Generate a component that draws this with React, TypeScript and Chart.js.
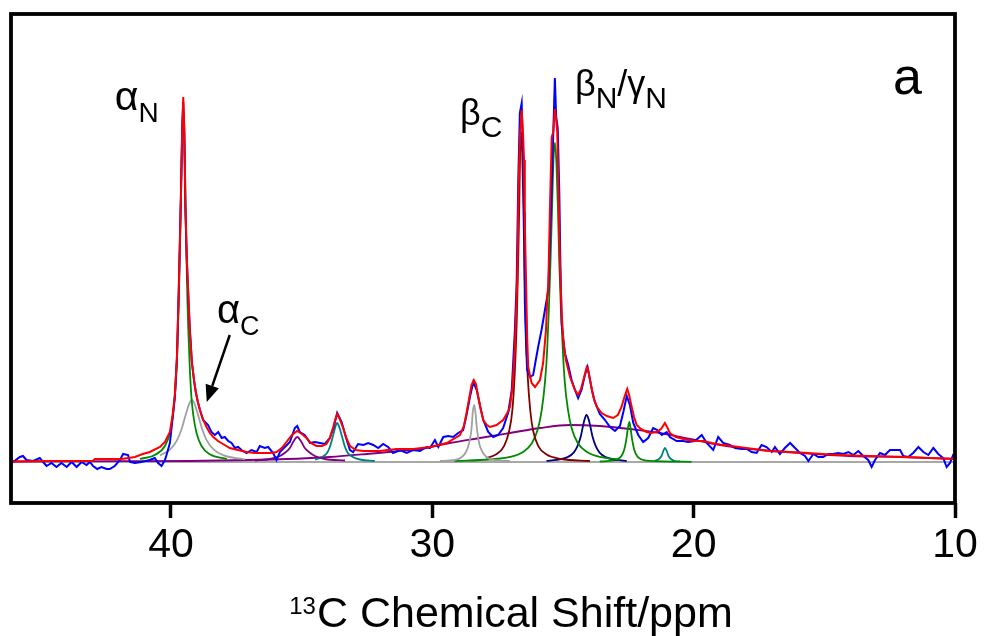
import React, { useEffect, useRef } from 'react';
import { Chart, registerables } from 'chart.js';

Chart.register(...registerables);

const FONT = '"Liberation Sans", Arial, Helvetica, sans-serif';

// axis
const TICK_VALUES = [40, 30, 20, 10];
const X_MIN = 10;
const X_MAX = 46.12;
const Y_MIN = -41;
const Y_MAX = 448;

// experimental spectrum (blue)
const expX = [46.12, 46.04, 45.78, 45.66, 45.53, 45.27, 45.02, 44.89, 44.76, 44.57, 44.38, 44.19, 43.99, 43.8, 43.61, 43.42, 43.23, 43.1, 42.98, 42.82, 42.66, 42.46, 42.34, 42.15, 41.95, 41.83, 41.64, 41.57, 41.38, 41.13, 40.81, 40.62, 40.49, 40.36, 40.23, 40.17, 40.04, 39.93, 39.85, 39.77, 39.7, 39.62, 39.57, 39.53, 39.49, 39.45, 39.39, 39.33, 39.28, 39.2, 39.12, 39.05, 38.97, 38.89, 38.77, 38.58, 38.45, 38.32, 38.19, 38.06, 37.94, 37.81, 37.68, 37.55, 37.43, 37.3, 37.11, 36.92, 36.72, 36.6, 36.41, 36.28, 36.09, 35.96, 35.83, 35.64, 35.45, 35.26, 35.17, 35.07, 34.88, 34.68, 34.49, 34.3, 34.11, 33.92, 33.77, 33.64, 33.47, 33.31, 33.15, 33.03, 32.84, 32.64, 32.45, 32.26, 32.07, 31.88, 31.69, 31.5, 31.24, 30.98, 30.73, 30.47, 30.22, 30.09, 29.9, 29.77, 29.58, 29.39, 29.2, 29.01, 28.82, 28.69, 28.56, 28.43, 28.3, 28.18, 28.05, 27.86, 27.67, 27.48, 27.29, 27.09, 26.96, 26.84, 26.77, 26.71, 26.65, 26.58, 26.53, 26.49, 26.46, 26.4, 26.37, 26.26, 26.14, 26.04, 25.95, 25.82, 25.69, 25.56, 25.5, 25.43, 25.37, 25.31, 25.26, 25.2, 25.14, 25.1, 25.05, 24.93, 24.8, 24.67, 24.54, 24.42, 24.29, 24.16, 24.06, 23.9, 23.78, 23.59, 23.39, 23.2, 23.01, 22.82, 22.69, 22.56, 22.44, 22.31, 22.12, 21.93, 21.74, 21.55, 21.39, 21.22, 21.03, 20.91, 20.65, 20.4, 20.21, 19.95, 19.69, 19.5, 19.25, 19.06, 18.87, 18.61, 18.42, 18.16, 17.97, 17.78, 17.59, 17.4, 17.21, 17.01, 16.89, 16.7, 16.51, 16.31, 16.12, 15.93, 15.74, 15.61, 15.42, 15.23, 15.04, 14.85, 14.66, 14.47, 14.27, 14.08, 13.89, 13.7, 13.51, 13.32, 13.19, 13.06, 12.87, 12.68, 12.49, 12.3, 12.1, 11.98, 11.79, 11.6, 11.4, 11.21, 11.02, 10.83, 10.64, 10.45, 10.32, 10.19, 10.07, 10.0];
const expY = [0, 0, 5, 6, 2, 1, 4, 0, -4, -1, -5, -1, -5, 0, -5, 0, -3, 0, -4, -7, -5, -7, -7, -4, 2, 8, 7, 0, -1, 0, 2, 4, -1, -4, 2, 7, 19, 45, 65, 105, 175, 265, 335, 360, 330, 255, 200, 162, 135, 100, 82, 70, 60, 52, 42, 37, 30, 27, 30, 24, 25, 21, 19, 14, 15, 12, 9, 12, 10, 16, 14, 15, 9, 2, 10, 15, 20, 34, 36, 30, 27, 19, 20, 19, 18, 24, 35, 49, 40, 25, 12, 10, 18, 17, 19, 17, 14, 18, 15, 9, 12, 9, 12, 11, 15, 14, 22, 15, 25, 26, 25, 29, 32, 47, 65, 80, 72, 57, 42, 30, 25, 27, 34, 50, 72, 132, 182, 282, 349, 359, 310, 250, 160, 110, 92, 85, 87, 102, 115, 132, 152, 172, 220, 275, 330, 384, 345, 334, 269, 200, 139, 109, 97, 82, 72, 64, 72, 87, 95, 73, 60, 48, 42, 35, 31, 36, 50, 66, 57, 39, 27, 20, 24, 34, 32, 27, 30, 25, 21, 21, 20, 21, 27, 19, 12, 25, 19, 17, 14, 13, 13, 10, 9, 17, 15, 10, 15, 8, 14, 19, 14, 9, 6, 1, 8, 5, 5, 8, 8, 9, 8, 10, 7, 11, 6, 2, -5, 2, 9, 7, 12, 12, 12, 6, 5, 9, 15, 10, 7, 14, 8, 4, -5, -1, 7, 6];

// total fit (red)
const fitX = [46.12, 44.63, 42.99, 42.91, 41.88, 41.38, 41.08, 40.81, 40.42, 40.23, 40.04, 39.93, 39.85, 39.77, 39.7, 39.62, 39.57, 39.53, 39.49, 39.45, 39.39, 39.33, 39.28, 39.2, 39.12, 39.05, 38.97, 38.89, 38.78, 38.64, 38.51, 38.38, 38.2, 38.01, 37.75, 37.44, 37.11, 36.79, 36.47, 36.21, 35.96, 35.76, 35.58, 35.37, 35.17, 34.99, 34.81, 34.65, 34.43, 34.22, 34.05, 33.92, 33.79, 33.71, 33.64, 33.56, 33.41, 33.29, 33.15, 32.92, 32.64, 32.01, 31.37, 30.73, 30.09, 29.45, 28.94, 28.79, 28.69, 28.58, 28.5, 28.41, 28.33, 28.24, 28.14, 28.05, 27.91, 27.8, 27.54, 27.29, 27.11, 27.03, 26.93, 26.84, 26.75, 26.7, 26.65, 26.58, 26.53, 26.49, 26.46, 26.42, 26.37, 26.33, 26.2, 26.07, 25.88, 25.76, 25.65, 25.6, 25.56, 25.5, 25.43, 25.37, 25.31, 25.25, 25.22, 25.17, 25.12, 25.05, 24.99, 24.89, 24.73, 24.54, 24.42, 24.31, 24.22, 24.09, 24.05, 23.95, 23.84, 23.7, 23.52, 23.32, 23.08, 22.9, 22.76, 22.65, 22.54, 22.46, 22.37, 22.28, 22.18, 22.02, 21.8, 21.63, 21.42, 21.25, 21.1, 20.98, 20.91, 20.68, 20.4, 20.03, 19.63, 19.3, 18.99, 18.42, 17.85, 17.08, 15.93, 14.78, 13.64, 12.1, 10.96, 10.0];
const fitY = [0.5, 1, 1, 3, 3, 5, 8, 10, 15, 20, 30, 48, 68, 105, 170, 262, 330, 365, 335, 262, 202, 165, 132, 100, 83, 70, 60, 52, 43, 35, 29, 25, 21, 18, 14, 12, 10, 9, 9, 9, 10, 14, 20, 27, 31, 28, 24, 19, 16, 16, 18, 24, 35, 43, 48, 44, 34, 24, 16, 12, 11, 11, 13, 13, 15, 19, 27, 36, 49, 65, 77, 82, 78, 65, 52, 42, 37, 35, 37, 42, 50, 55, 75, 115, 182, 270, 325, 352, 330, 302, 240, 190, 125, 95, 79, 75, 82, 99, 132, 165, 178, 252, 325, 330, 353, 340, 330, 269, 202, 149, 122, 102, 85, 72, 67, 73, 82, 95, 94, 80, 65, 55, 49, 46, 44, 47, 55, 65, 73, 66, 55, 45, 37, 33, 30, 29, 30, 33, 39, 33, 29, 25, 23, 21, 21, 19, 17.5, 15.5, 13.5, 11, 9.5, 7.5, 6.3, 5.2, 4, 3.2];

// broad background component (purple)
const broadX = [46.12, 42.0, 39.28, 36.98, 35.0, 33.92, 32.5, 31.24, 30.47, 29.33, 28.18, 27.03, 25.88, 24.73, 23.59, 22.44, 21.29, 20.14, 18.99, 17.85, 15.93, 14.02, 12.1, 10.0];
const broadY = [0.5, 0.8, 1, 2, 3.5, 5, 8, 11, 13, 19, 24, 29, 34, 37, 36, 33, 29, 23, 17, 13, 9, 6, 5, 3];

// αN component (green)
const alphaNX = [41.19, 40.62, 40.23, 40.04, 39.93, 39.85, 39.77, 39.7, 39.64, 39.6, 39.56, 39.53, 39.5, 39.46, 39.43, 39.37, 39.29, 39.22, 39.14, 39.02, 38.83, 38.51, 37.86];
const alphaNY = [3, 7, 16, 29, 46, 66, 101, 162, 235, 291, 337, 350, 337, 291, 235, 162, 101, 66, 46, 29, 16, 7.7, 2.9];

// αC component (gray)
const alphaCX = [40.42, 40.04, 39.77, 39.58, 39.43, 39.31, 39.2, 39.09, 38.97, 38.82, 38.63, 38.36, 37.98, 37.17];
const alphaCY = [6.6, 12.4, 21.7, 34, 47.8, 57.7, 62, 57.7, 47.8, 34, 21.7, 12.4, 6.6, 2.6];

// 35.2 ppm component (purple)
const p35X = [36.79, 36.21, 35.83, 35.6, 35.45, 35.3, 35.17, 35.03, 34.88, 34.72, 34.49, 34.11, 33.34];
const p35Y = [1.5, 3, 6, 10, 14, 21, 25, 21, 14, 10, 6, 3, 1.5];

// 33.6 ppm component (teal)
const p33X = [34.49, 34.22, 34.03, 33.92, 33.8, 33.71, 33.64, 33.56, 33.46, 33.34, 33.23, 33.04, 32.77, 32.2];
const p33Y = [2.5, 5, 9, 15, 26, 35, 39, 35, 26, 15, 9, 5, 2.5, 1];

// 28.4 ppm component (gray)
const p28X = [29.71, 29.14, 28.87, 28.71, 28.6, 28.5, 28.45, 28.4, 28.35, 28.29, 28.2, 28.08, 27.93, 27.64, 27.03];
const p28Y = [1, 2, 5, 10, 18, 33, 50, 57, 50, 33, 18, 10, 5, 2, 1];

// βC component (brown)
const betaCX = [27.94, 27.55, 27.25, 27.06, 26.94, 26.85, 26.77, 26.71, 26.67, 26.64, 26.6, 26.56, 26.52, 26.48, 26.43, 26.35, 26.25, 26.14, 25.95, 25.64, 25.07, 23.97];
const betaCY = [4, 7.7, 16.2, 31, 51, 86, 140, 206, 260, 309, 330, 309, 260, 206, 140, 86, 51, 31, 16.2, 7.7, 3, 1];

// βN/γN component (green)
const betaNX = [29.14, 27.8, 27.03, 26.53, 26.19, 25.96, 25.81, 25.69, 25.61, 25.54, 25.48, 25.42, 25.37, 25.31, 25.25, 25.19, 25.14, 25.08, 25.0, 24.93, 24.81, 24.66, 24.43, 24.08, 23.59, 22.82];
const betaNY = [1, 2.5, 5.1, 10, 18.8, 32.9, 52.4, 79.5, 109, 153, 198, 251, 298.7, 319, 298.7, 251, 198, 153, 109, 79.5, 52.4, 32.9, 18.8, 10, 5.1, 2.5];

// 24.1 ppm component (navy)
const p24X = [25.63, 25.24, 24.82, 24.59, 24.44, 24.32, 24.25, 24.17, 24.1, 24.02, 23.94, 23.87, 23.75, 23.6, 23.37, 22.95, 22.56];
const p24Y = [1.2, 2.1, 4.9, 9.4, 16.1, 25.4, 34.1, 42.9, 47, 42.9, 34.1, 25.4, 16.1, 9.4, 4.9, 2.1, 1.2];

// 22.5 ppm component (green)
const p22X = [23.59, 23.23, 22.92, 22.77, 22.66, 22.58, 22.52, 22.46, 22.41, 22.35, 22.27, 22.16, 22.01, 21.7, 20.08];
const p22Y = [0.5, 1.1, 2.8, 5.8, 12.1, 21.9, 33, 40, 33, 21.9, 12.1, 5.8, 2.8, 1.1, 0.2];

// 21.1 ppm component (teal)
const p21X = [21.48, 21.33, 21.23, 21.16, 21.1, 21.03, 20.96, 20.87, 20.72, 20.52];
const p21Y = [1, 3, 6, 11, 14, 11, 6, 3, 1, 0.5];

// zero line
const zeroX = [46.12, 10.0];
const zeroY = [0, 0];

// peak labels: text parts [text, isSubscript], anchored at (ppm, intensity)
const LABEL_PARTS = [
  [['α', 0], ['N', 1]],
  [['α', 0], ['C', 1]],
  [['β', 0], ['C', 1]],
  [['β', 0], ['N', 1], ['/', 0], ['γ', 0], ['N', 1]],
  [['a', 0]],
];
const LABEL_PPM = [42.15, 38.24, 28.94, 24.54, 12.37];
const LABEL_INT = [352, 139, 337, 366, 368];
const LABEL_SIZE = [41, 40, 36, 36, 52];
const LABEL_SUB = [28, 27, 30, 30, 30];

// arrow to αC (from ppm/int to ppm/int)
const ARROW_FROM = [37.75, 127];
const ARROW_TO = [38.63, 60];

const pts = (xs: number[], ys: number[]) => xs.map((x, i) => ({ x, y: ys[i] }));

const annotPlugin = {
  id: 'annot',
  afterDatasetsDraw(chart: any) {
    const { ctx, chartArea, scales } = chart;
    const xs = scales.x;
    const ys = scales.y;
    ctx.save();
    // frame
    ctx.lineWidth = 3.8;
    ctx.strokeStyle = '#000';
    ctx.strokeRect(chartArea.left, chartArea.top, chartArea.right - chartArea.left, chartArea.bottom - chartArea.top);
    // labels
    ctx.fillStyle = '#000';
    ctx.textAlign = 'left';
    ctx.textBaseline = 'alphabetic';
    LABEL_PARTS.forEach((parts, i) => {
      let px = xs.getPixelForValue(LABEL_PPM[i]);
      const py = ys.getPixelForValue(LABEL_INT[i]);
      parts.forEach(([t, sub]: any) => {
        ctx.font = `${sub ? LABEL_SUB[i] : LABEL_SIZE[i]}px ${FONT}`;
        ctx.fillText(t, px, sub ? py + 12 : py);
        px += ctx.measureText(t).width;
      });
    });
    // arrow
    const x1 = xs.getPixelForValue(ARROW_FROM[0]);
    const y1 = ys.getPixelForValue(ARROW_FROM[1]);
    const x2 = xs.getPixelForValue(ARROW_TO[0]);
    const y2 = ys.getPixelForValue(ARROW_TO[1]);
    const ang = Math.atan2(y2 - y1, x2 - x1);
    const headLen = 17;
    const headHalf = 7;
    const bx = x2 - headLen * Math.cos(ang);
    const by = y2 - headLen * Math.sin(ang);
    ctx.lineWidth = 2.5;
    ctx.beginPath();
    ctx.moveTo(x1, y1);
    ctx.lineTo(bx, by);
    ctx.stroke();
    ctx.beginPath();
    ctx.moveTo(x2, y2);
    ctx.lineTo(bx + headHalf * Math.sin(ang), by - headHalf * Math.cos(ang));
    ctx.lineTo(bx - headHalf * Math.sin(ang), by + headHalf * Math.cos(ang));
    ctx.closePath();
    ctx.fill();
    ctx.restore();
  },
  afterDraw(chart: any) {
    const { ctx, chartArea } = chart;
    ctx.save();
    ctx.fillStyle = '#000';
    ctx.textAlign = 'left';
    ctx.textBaseline = 'alphabetic';
    const supText = '13';
    const mainText = 'C Chemical Shift/ppm';
    ctx.font = `24px ${FONT}`;
    const wSup = ctx.measureText(supText).width;
    ctx.font = `43px ${FONT}`;
    const wMain = ctx.measureText(mainText).width;
    const total = wSup + 1 + wMain;
    const cx = (chartArea.left + chartArea.right) / 2 + 28;
    const x0 = cx - total / 2;
    const base = chart.height - 9;
    ctx.font = `24px ${FONT}`;
    ctx.fillText(supText, x0, base - 13);
    ctx.font = `43px ${FONT}`;
    ctx.fillText(mainText, x0 + wSup + 1, base);
    ctx.restore();
  },
};

export default function App() {
  const ref = useRef<HTMLCanvasElement | null>(null);
  useEffect(() => {
    if (!ref.current) return;
    const comp = (xs: number[], ys: number[], color: string, order = 2) => ({
      data: pts(xs, ys),
      borderColor: color,
      borderWidth: 1.8,
      pointRadius: 0,
      cubicInterpolationMode: 'monotone',
      fill: false,
      order,
    });
    const chart = new Chart(ref.current, {
      type: 'line',
      data: {
        datasets: [
          { data: pts(fitX, fitY), borderColor: '#ff0000', borderWidth: 2, pointRadius: 0, tension: 0, fill: false, order: 0 },
          { data: pts(expX, expY), borderColor: '#0000ff', borderWidth: 2, pointRadius: 0, tension: 0, fill: false, order: 1 },
          comp(alphaNX, alphaNY, '#008a00'),
          comp(alphaCX, alphaCY, '#a0a0a0'),
          comp(p35X, p35Y, '#800080'),
          comp(p33X, p33Y, '#008080'),
          comp(p28X, p28Y, '#a0a0a0'),
          comp(betaCX, betaCY, '#800000'),
          comp(betaNX, betaNY, '#008a00'),
          comp(p24X, p24Y, '#000080'),
          comp(p22X, p22Y, '#008a00'),
          comp(p21X, p21Y, '#008080'),
          comp(broadX, broadY, '#800080', 3),
          { data: pts(zeroX, zeroY), borderColor: '#a8a8a8', borderWidth: 2, pointRadius: 0, fill: false, order: 4 },
        ] as any,
      },
      options: {
        responsive: false,
        animation: false,
        devicePixelRatio: 1,
        events: [],
        layout: { padding: { left: 11, right: 29, top: 14, bottom: 0 } },
        plugins: { legend: { display: false }, tooltip: { enabled: false }, title: { display: false } },
        scales: {
          x: {
            type: 'linear',
            reverse: true,
            min: X_MIN,
            max: X_MAX,
            border: { display: false },
            grid: { display: true, drawOnChartArea: false, drawTicks: true, tickLength: 15, tickWidth: 3.5, tickColor: '#000' },
            ticks: { color: '#000', font: { size: 41, family: FONT }, padding: 3, maxRotation: 0, autoSkip: false },
            afterBuildTicks: (s: any) => { s.ticks = TICK_VALUES.map((v) => ({ value: v })); },
            afterFit: (s: any) => { s.height = 133; },
          },
          y: { type: 'linear', display: false, min: Y_MIN, max: Y_MAX },
        },
      } as any,
      plugins: [annotPlugin],
    });
    return () => chart.destroy();
  }, []);
  return (
    <div style={{ position: 'fixed', left: 0, top: 0, width: 984, height: 636, background: '#fff' }}>
      <canvas ref={ref} width={984} height={636} style={{ display: 'block' }} />
    </div>
  );
}
